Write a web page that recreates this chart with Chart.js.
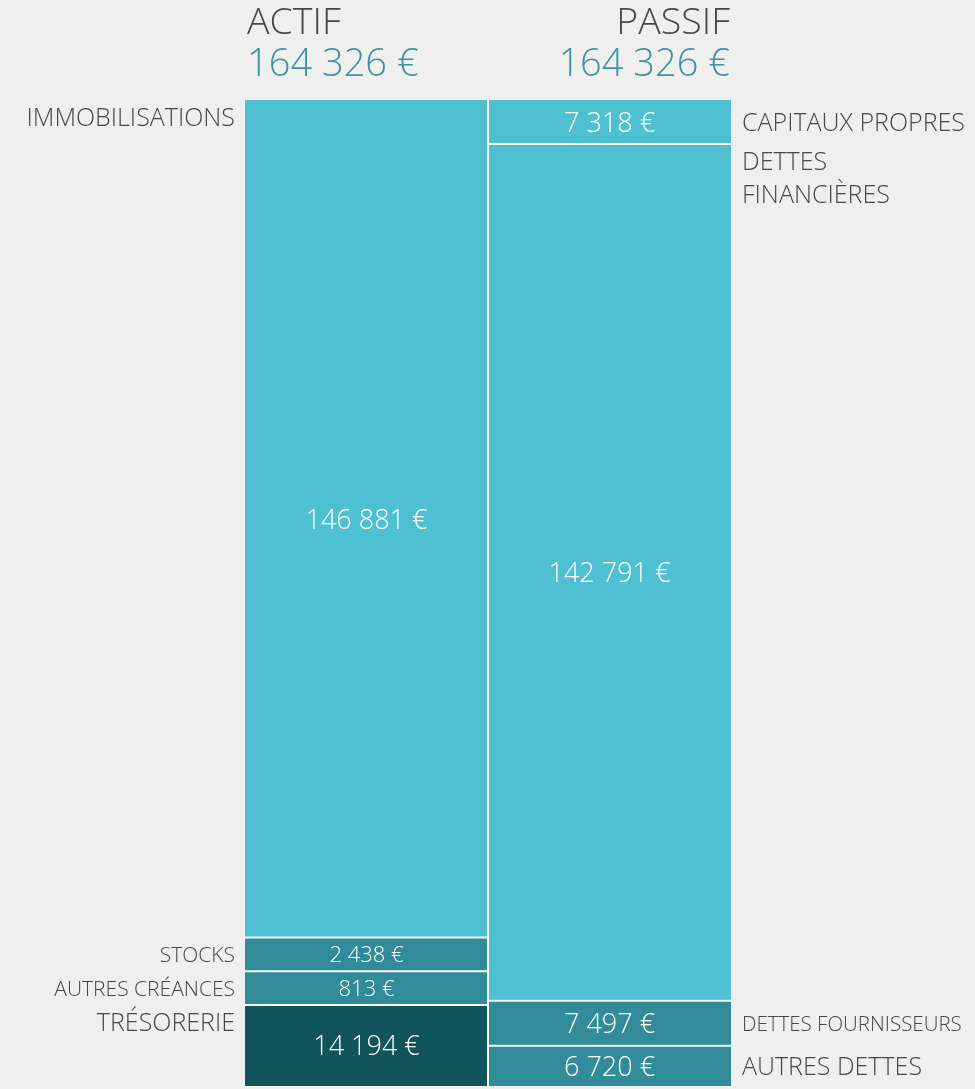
<!DOCTYPE html>
<html lang="fr">
<head>
<meta charset="utf-8">
<title>Bilan - Actif / Passif</title>
<script src="https://cdn.jsdelivr.net/npm/chart.js@4.4.1/dist/chart.umd.min.js"></script>
<style>
	html, body { margin: 0; padding: 0; background: #efefef; }
	#wrap { position: relative; width: 975px; height: 1089px; }
</style>
</head>
<body>
<div id="wrap"><canvas id="chart-bilan"></canvas></div>
<script>
/* Data */

var columns = [ "ACTIF", "PASSIF" ];
var totals = [ 164326, 164326 ];

var actifLabels = [ "IMMOBILISATIONS", "STOCKS", "AUTRES CRÉANCES", "TRÉSORERIE" ];
var actifValues = [ 146881, 2438, 813, 14194 ];

var passifLabels = [ "CAPITAUX PROPRES", "DETTES FINANCIÈRES", "DETTES FOURNISSEURS", "AUTRES DETTES" ];
var passifValues = [ 7318, 142791, 7497, 6720 ];

/* Styles */

var actifColors = [ '#4fc0d2', '#318b99', '#318b99', '#11545c' ];
var passifColors = [ '#4fc0d2', '#4fc0d2', '#318b99', '#318b99' ];
var textColor = '#474747';
var totalColor = '#3a939f';
var FONT = "'Open Sans', 'DejaVu Sans', sans-serif";

// small blocks keep a minimum visible height, like the original report
var MIN_SHARE = 0.036;

function displayShares( values, total ) {
	var raised = values.map(function( v ){ return Math.max( v, MIN_SHARE * total ); });
	var sum = raised.reduce(function( a, b ){ return a + b; }, 0);
	return raised.map(function( v ){ return v / sum * 100; });
}

function euros( v ) {
	return String( v ).replace( /\B(?=(\d{3})+(?!\d))/g, ' ' ) + ' €';
}

var actifShares = displayShares( actifValues, totals[0] );
var passifShares = displayShares( passifValues, totals[1] );
var labels = [ actifLabels, passifLabels ];
var values = [ actifValues, passifValues ];

var datasets = [];
for ( var i = 0; i < actifValues.length; i++ ) {
	datasets.push({
		label: actifLabels[i] + ' / ' + passifLabels[i],
		data: [ actifShares[i], passifShares[i] ],
		backgroundColor: [ actifColors[i], passifColors[i] ]
	});
}

/* Labels plugin */

function wrapWords( ctx, text, maxWidth ) {
	var words = text.split( ' ' ), lines = [], line = '';
	words.forEach(function( w ){
		var test = line ? line + ' ' + w : w;
		if ( line && ctx.measureText( test ).width > maxWidth ) {
			lines.push( line );
			line = w;
		} else {
			line = test;
		}
	});
	if ( line ) lines.push( line );
	return lines;
}

var bilanLabels = {
	id: 'bilanLabels',
	afterDatasetsDraw: function( chart ) {
		var ctx = chart.ctx;
		var area = chart.chartArea;
		ctx.save();

		// headers
		var heads = [ { x: area.left + 2, align: 'left' }, { x: area.right - 1, align: 'right' } ];
		heads.forEach(function( h, j ){
			ctx.textAlign = h.align;
			ctx.textBaseline = 'alphabetic';
			ctx.fillStyle = textColor;
			ctx.font = '300 37.5px ' + FONT;
			ctx.fillText( columns[j], h.x, 34 );
			ctx.fillStyle = totalColor;
			ctx.font = '300 38px ' + FONT;
			ctx.fillText( euros( totals[j] ), h.x, 76 );
		});

		chart.data.datasets.forEach(function( ds, i ){
			var meta = chart.getDatasetMeta( i );
			meta.data.forEach(function( bar, j ){
				var top = Math.min( bar.y, bar.base );
				var bottom = Math.max( bar.y, bar.base );
				var h = bottom - top;
				var cy = ( top + bottom ) / 2;
				var small = h < 40;

				// value inside the block
				var vSize = small ? 22 : 27;
				ctx.font = '300 ' + vSize + 'px ' + FONT;
				ctx.fillStyle = '#ffffff';
				ctx.textAlign = 'center';
				ctx.fillText( euros( values[j][i] ), bar.x, cy + vSize * 0.36 );

				// side label
				var left = j === 0;
				var lx = left ? bar.x - bar.width / 2 - 10 : bar.x + bar.width / 2 + 11;
				var room = left ? lx - 2 : chart.width - lx - 9;
				var size = small ? 21 : 25;
				ctx.font = '300 ' + size + 'px ' + FONT;
				var lines = [ labels[j][i] ];
				if ( h > 60 ) {
					lines = wrapWords( ctx, labels[j][i], room );
				} else {
					while ( ctx.measureText( lines[0] ).width > room && size > 10 ) {
						size -= 0.5;
						ctx.font = '300 ' + size + 'px ' + FONT;
					}
				}
				ctx.fillStyle = textColor;
				ctx.textAlign = left ? 'right' : 'left';
				var y0 = h > 60 ? top + 26 : cy + size * 0.36;
				lines.forEach(function( line, k ){
					ctx.fillText( line, lx, y0 + k * 33 );
				});
			});
		});
		ctx.restore();
	}
};

/* Chart */

var ctxbilan = document.getElementById( "chart-bilan" ).getContext( '2d' );
var myChart = new Chart( ctxbilan, {
	type: 'bar',
	data: {
		labels: columns,
		datasets: datasets
	},
	options: {
		responsive: true,
		maintainAspectRatio: false,
		animation: false,
		layout: { padding: { left: 245, right: 244, top: 100, bottom: 3 } },
		datasets: {
			bar: {
				barPercentage: 1,
				categoryPercentage: 1,
				borderColor: '#ffffff',
				borderSkipped: false,
				inflateAmount: 0,
				borderWidth: function( c ) {
					var last = c.chart.data.datasets.length - 1;
					return {
						top: c.datasetIndex === 0 ? 0 : 1,
						bottom: c.datasetIndex === last ? 0 : 1,
						left: c.dataIndex === 0 ? 0 : 1,
						right: c.dataIndex === 0 ? 1 : 0
					};
				}
			}
		},
		scales: {
			x: { display: false, stacked: true },
			y: { display: false, stacked: true, reverse: true, min: 0, max: 100 }
		},
		plugins: {
			legend: { display: false },
			tooltip: { enabled: false }
		}
	},
	plugins: [ bilanLabels ]
});
</script>
</body>
</html>
